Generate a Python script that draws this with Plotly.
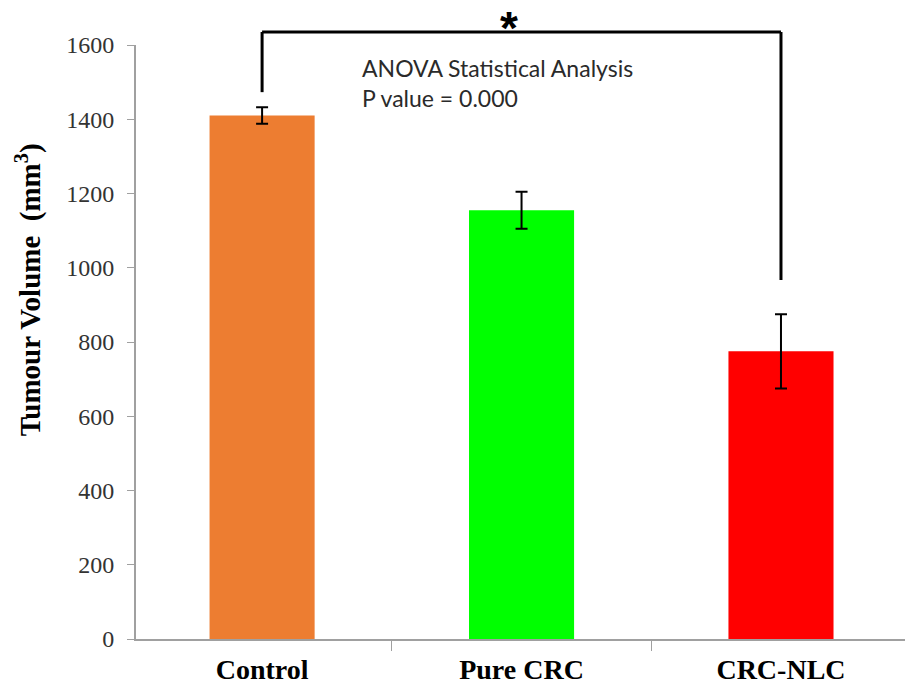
import plotly.graph_objects as go

categories = ["Control", "Pure CRC", "CRC-NLC"]
volumes = [1410, 1155, 775]
errors = [22, 50, 100]
bar_colors = ["#ED7D31", "#00FF00", "#FF0000"]
y_ticks = [0, 200, 400, 600, 800, 1000, 1200, 1400, 1600]
y_max = 1600

# significance bracket (data units)
bracket_top = 1635
bracket_left_bottom = 1473
bracket_right_bottom = 967

fig = go.Figure()
fig.add_trace(go.Bar(
    x=categories, y=volumes, width=0.405,
    marker=dict(color=bar_colors, line=dict(width=0)),
    error_y=dict(type="data", array=errors, visible=True,
                 color="black", thickness=2, width=6),
    showlegend=False,
))

line_style = dict(color="black", width=3)
fig.add_shape(type="line", xref="x", yref="paper",
              x0=0, x1=2, y0=bracket_top / y_max, y1=bracket_top / y_max, line=line_style)
fig.add_shape(type="line", xref="x", yref="paper",
              x0=0, x1=0, y0=bracket_top / y_max, y1=bracket_left_bottom / y_max, line=line_style)
fig.add_shape(type="line", xref="x", yref="paper",
              x0=2, x1=2, y0=bracket_top / y_max, y1=bracket_right_bottom / y_max, line=line_style)

fig.add_annotation(x=0.95, y=bracket_top / y_max, xref="x", yref="paper",
                   text="<b>*</b>", showarrow=False, yanchor="bottom",
                   font=dict(family="Liberation Sans", size=46, color="black"), yshift=-24)

fig.add_annotation(x=0.378, y=0.961, xref="x", yref="paper",
                   text="ANOVA Statistical Analysis",
                   showarrow=False, xanchor="left", yanchor="middle", align="left",
                   font=dict(family="Lato", size=23, color="#2a2a2a"))
fig.add_annotation(x=0.378, y=0.911, xref="x", yref="paper",
                   text="P value = 0.000",
                   showarrow=False, xanchor="left", yanchor="middle", align="left",
                   font=dict(family="Lato", size=23, color="#2a2a2a"))

fig.add_annotation(x=-0.14, y=0.5875, xref="paper", yref="paper",
                   text="<b>Tumour Volume  (mm<sup>3</sup>)</b>",
                   showarrow=False, textangle=-90, xanchor="center", yanchor="middle",
                   font=dict(family="Liberation Serif", size=29, color="black"))

fig.update_layout(
    width=905, height=687,
    margin=dict(l=136, r=0, t=45, b=48, pad=0),
    plot_bgcolor="white", paper_bgcolor="white",
    bargap=0.6,
)
fig.update_xaxes(
    type="category", range=[-0.486, 2.478],
    showline=True, linecolor="#a0a0a0", linewidth=2,
    ticks="outside", tickson="boundaries", ticklen=10, tickcolor="#a0a0a0", tickwidth=1,
    tickfont=dict(family="Liberation Serif", size=28, color="black"),
    showgrid=False, zeroline=False, ticklabelstandoff=4,
)
fig.update_xaxes(ticktext=[f"<b>{c}</b>" for c in categories], tickvals=categories)
fig.update_yaxes(
    range=[0, y_max], tickvals=y_ticks,
    showline=True, linecolor="#a0a0a0", linewidth=2,
    ticks="outside", ticklen=7, tickcolor="#a0a0a0", tickwidth=1,
    tickfont=dict(family="Liberation Serif", size=24, color="#333333"),
    showgrid=False, zeroline=False, ticklabelstandoff=8,
)

fig.write_html("out.html")
